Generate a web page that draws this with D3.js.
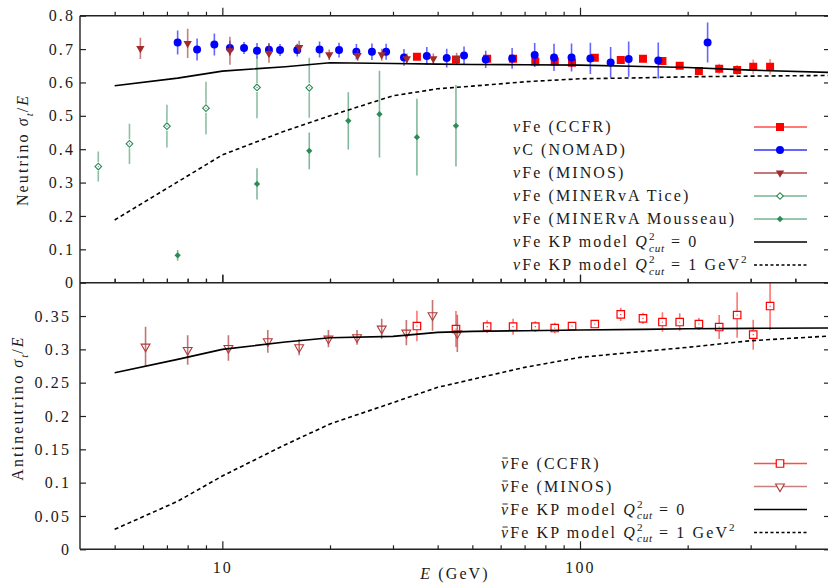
<!DOCTYPE html>
<html><head><meta charset="utf-8">
<script src="https://cdn.jsdelivr.net/npm/d3@7"></script>
<style>
body{margin:0;background:#fff;}
svg text{font-family:"Liberation Serif","Times New Roman",serif;fill:#1a1a1a;letter-spacing:2.1px;white-space:pre;}
</style></head><body><svg id="chart" width="828" height="588"></svg>
<script>
// ---- neutrino data (sigma_t / E, 1e-38 cm^2/GeV) ----
const ccfrE      = [35, 45, 55, 65, 75, 85, 95, 110, 130, 150, 170, 190, 215, 245, 275, 305, 340];
const ccfrNuV    = [0.677, 0.669, 0.671, 0.671, 0.663, 0.663, 0.659, 0.674, 0.667, 0.671, 0.664, 0.650, 0.634, 0.641, 0.637, 0.647, 0.647];
const ccfrNuErr  = [0.008, 0.008, 0.008, 0.008, 0.008, 0.008, 0.008, 0.008, 0.008, 0.010, 0.010, 0.010, 0.012, 0.015, 0.015, 0.022, 0.023];

const nomadE   = [7.5, 8.5, 9.5, 10.5, 11.5, 12.5, 13.5, 14.5, 16.2, 18.7, 21.2, 23.7, 26.2, 28.7, 32.2, 37.3, 42.4, 47.4, 54.5, 64.6, 74.7, 84.6, 94.7, 106.9, 121.8, 136.8, 165.5, 227.4];
const nomadV   = [0.720, 0.699, 0.714, 0.703, 0.703, 0.695, 0.698, 0.697, 0.697, 0.699, 0.697, 0.692, 0.692, 0.692, 0.675, 0.679, 0.673, 0.681, 0.669, 0.672, 0.682, 0.675, 0.675, 0.672, 0.660, 0.670, 0.666, 0.720];
const nomadErr = [0.036, 0.033, 0.033, 0.022, 0.018, 0.023, 0.020, 0.018, 0.019, 0.024, 0.022, 0.023, 0.025, 0.024, 0.025, 0.027, 0.028, 0.027, 0.026, 0.031, 0.036, 0.041, 0.042, 0.047, 0.046, 0.053, 0.054, 0.060];

const minosNuE   = [5.9, 8.0, 10.5, 13.5, 16.4, 19.9, 23.9, 27.9, 32.8, 38.9, 45.2];
const minosNuV   = [0.702, 0.717, 0.695, 0.687, 0.705, 0.683, 0.681, 0.683, 0.671, 0.671, 0.671];
const minosNuErr = [0.032, 0.044, 0.042, 0.028, 0.020, 0.016, 0.016, 0.018, 0.016, 0.016, 0.018];

const ticeE   = [4.5, 5.5, 7.0, 9.0, 12.5, 17.5];
const ticeV   = [0.348, 0.416, 0.469, 0.523, 0.585, 0.584];
const ticeErr = [0.045, 0.060, 0.064, 0.079, 0.092, 0.090];

const mousseauE   = [7.5, 12.5, 17.5, 22.5, 27.5, 35, 45];
const mousseauV   = [0.082, 0.296, 0.395, 0.485, 0.505, 0.436, 0.470];
const mousseauErr = [0.016, 0.047, 0.055, 0.086, 0.130, 0.115, 0.122];

// ---- antineutrino data ----
const ccfrAntiV   = [0.335, 0.3305, 0.334, 0.334, 0.334, 0.332, 0.335, 0.338, 0.3525, 0.3465, 0.341, 0.341, 0.338, 0.3335, 0.3515, 0.322, 0.365];
const ccfrAntiErr = [0.023, 0.027, 0.0095, 0.012, 0.008, 0.008, 0.006, 0.005, 0.010, 0.0085, 0.0145, 0.013, 0.009, 0.018, 0.034, 0.0225, 0.036];

const minosAntiE   = [6.1, 8.0, 10.4, 13.4, 16.4, 19.8, 23.8, 27.9, 32.7, 38.7, 45.4];
const minosAntiV   = [0.304, 0.299, 0.302, 0.312, 0.303, 0.316, 0.318, 0.331, 0.325, 0.351, 0.324];
const minosAntiErr = [0.030, 0.022, 0.019, 0.017, 0.012, 0.013, 0.011, 0.015, 0.019, 0.023, 0.028];

// ---- KP model curves ----
const modelE       = [5, 7.5, 10, 15, 20, 30, 40, 50, 70, 100, 150, 200, 300, 500];
const nuKP0        = [0.590, 0.613, 0.634, 0.647, 0.659, 0.657, 0.655, 0.654, 0.653, 0.652, 0.648, 0.645, 0.637, 0.630];
const nuKP1        = [0.188, 0.302, 0.383, 0.455, 0.500, 0.560, 0.581, 0.589, 0.602, 0.611, 0.614, 0.617, 0.619, 0.621];
const antiKP0      = [0.265, 0.285, 0.300, 0.311, 0.3175, 0.3195, 0.3255, 0.327, 0.328, 0.329, 0.330, 0.331, 0.3315, 0.332];
const antiKP1      = [0.030, 0.072, 0.110, 0.157, 0.188, 0.220, 0.243, 0.255, 0.273, 0.288, 0.297, 0.303, 0.313, 0.320];

// ---- ticks ----
const topTicks = [0, 0.1, 0.2, 0.3, 0.4, 0.5, 0.6, 0.7, 0.8];
const botTicks = [0, 0.05, 0.1, 0.15, 0.2, 0.25, 0.3, 0.35];
const xMajor = [10, 100];
const xMinor = [5, 6, 7, 8, 9, 20, 30, 40, 50, 60, 70, 80, 90, 200, 300, 400];
const xLabels = ["10", "100"];

const svg = d3.select("#chart");
const FS = 16;
const L = 80, R = 830, T = 15.7, MID = 282.7, B = 549.3;

const x = d3.scaleLog().domain([4, 500]).range([L, R]);
const yTop = d3.scaleLinear().domain([0, 0.8]).range([MID, T]);
const yBot = d3.scaleLinear().domain([0, 0.4]).range([B, MID]);

const defs = svg.append("defs");
defs.append("clipPath").attr("id", "clipTop").append("rect").attr("x", L).attr("y", T).attr("width", R - L).attr("height", MID - T);
defs.append("clipPath").attr("id", "clipBot").append("rect").attr("x", L).attr("y", MID).attr("width", R - L).attr("height", B - MID);

const zip = (E, V, Er) => E.map((e, i) => ({e, v: V[i], err: Er ? Er[i] : 0}));

// ---------- axes ----------
function xAxes(y, dir, showLabels) {
  const mk = dir === "bottom" ? d3.axisBottom : d3.axisTop;
  const sign = dir === "bottom" ? -1 : 1;  // inward ticks
  const gMaj = svg.append("g").attr("transform", `translate(0,${y})`)
    .call(mk(x).tickValues(xMajor).tickSize(sign * 8).tickPadding(12)
      .tickFormat((d, i) => showLabels ? xLabels[i] : ""));
  const gMin = svg.append("g").attr("transform", `translate(0,${y})`)
    .call(mk(x).tickValues(xMinor).tickSize(sign * 4).tickFormat(""));
  [gMaj, gMin].forEach(g => {
    g.select(".domain").remove();
    g.selectAll(".tick line").attr("stroke", "#222").attr("stroke-width", 1.2);
    g.selectAll("text").style("font-size", FS + "px").attr("fill", "#1a1a1a").attr("font-family", null);
  });
}
function yAxes(scale, ticks, labelX) {
  const gl = svg.append("g").attr("transform", `translate(${L},0)`)
    .call(d3.axisLeft(scale).tickValues(ticks).tickSize(-6).tickPadding(0).tickFormat(d => String(d)));
  gl.select(".domain").remove();
  gl.selectAll(".tick line").attr("stroke", "#222").attr("stroke-width", 1.2);
  gl.selectAll("text").attr("x", labelX - L).style("font-size", FS + "px").attr("font-family", null);
  const gr = svg.append("g").attr("transform", `translate(${R},0)`)
    .call(d3.axisRight(scale).tickValues(ticks).tickSize(-6).tickFormat(""));
  gr.select(".domain").remove();
  gr.selectAll(".tick line").attr("stroke", "#222").attr("stroke-width", 1.2);
}

// ---------- panel content ----------
function errBars(g, data, y, color, opacity, gap) {
  data.forEach(d => {
    const cx = x(d.e), y1 = y(d.v + d.err), y0 = y(d.v - d.err), cy = y(d.v);
    if (gap) {
      if (cy - gap > y1) g.append("line").attr("x1", cx).attr("x2", cx).attr("y1", y1).attr("y2", cy - gap);
      if (cy + gap < y0) g.append("line").attr("x1", cx).attr("x2", cx).attr("y1", cy + gap).attr("y2", y0);
    } else {
      g.append("line").attr("x1", cx).attr("x2", cx).attr("y1", y1).attr("y2", y0);
    }
  });
  g.selectAll("line").attr("stroke", color).attr("stroke-opacity", opacity).attr("stroke-width", 1.6);
}
function markers(g, data, y, sym, size, rot, fill, stroke, sw, dot) {
  g.selectAll("path").data(data).join("path")
    .attr("d", d3.symbol().type(sym).size(size))
    .attr("transform", d => `translate(${x(d.e)},${y(d.v)}) rotate(${rot})`)
    .attr("fill", fill).attr("stroke", stroke).attr("stroke-width", sw);
  if (dot) {
    g.selectAll("circle").data(data).join("circle")
      .attr("cx", d => x(d.e)).attr("cy", d => y(d.v)).attr("r", 0.6).attr("fill", dot);
  }
}
function curve(g, E, V, y, dash) {
  g.append("path").datum(E.map((e, i) => [e, V[i]]))
    .attr("d", d3.line().x(d => x(d[0])).y(d => y(d[1])))
    .attr("fill", "none").attr("stroke", "#000").attr("stroke-width", 1.6)
    .attr("stroke-dasharray", dash ? "4,3" : null);
}

const RED = "#ff0000", BLUE = "#0000ff", BROWN = "#a52a2a", GREEN = "#2e8b57";

// top panel
const gt = svg.append("g").attr("clip-path", "url(#clipTop)");
const ccfrNu = zip(ccfrE, ccfrNuV, ccfrNuErr);
const nomad = zip(nomadE, nomadV, nomadErr);
const minosNu = zip(minosNuE, minosNuV, minosNuErr);
const tice = zip(ticeE, ticeV, ticeErr);
const mous = zip(mousseauE, mousseauV, mousseauErr);

errBars(gt.append("g"), ccfrNu, yTop, RED, 0.45);
markers(gt.append("g"), ccfrNu, yTop, d3.symbolSquare, 64, 0, RED, "none", 0);
errBars(gt.append("g"), nomad, yTop, BLUE, 0.6);
markers(gt.append("g"), nomad, yTop, d3.symbolCircle, 50, 0, BLUE, "none", 0);
errBars(gt.append("g"), minosNu, yTop, BROWN, 0.6);
markers(gt.append("g"), minosNu, yTop, d3.symbolTriangle, 30, 180, BROWN, "none", 0);
errBars(gt.append("g"), tice, yTop, GREEN, 0.55, 4.5);
markers(gt.append("g"), tice, yTop, d3.symbolSquare, 22, 45, "none", GREEN, 1.1, GREEN);
errBars(gt.append("g"), mous, yTop, GREEN, 0.6);
markers(gt.append("g"), mous, yTop, d3.symbolSquare, 20, 45, GREEN, "none", 0);
curve(gt, modelE, nuKP0, yTop, false);
curve(gt, modelE, nuKP1, yTop, true);

// bottom panel
const gb = svg.append("g").attr("clip-path", "url(#clipBot)");
const ccfrAnti = zip(ccfrE, ccfrAntiV, ccfrAntiErr);
const minosAnti = zip(minosAntiE, minosAntiV, minosAntiErr);
errBars(gb.append("g"), ccfrAnti, yBot, RED, 0.55, 4);
markers(gb.append("g"), ccfrAnti, yBot, d3.symbolSquare, 56, 0, "none", RED, 1.2, RED);
errBars(gb.append("g"), minosAnti, yBot, BROWN, 0.65);
markers(gb.append("g"), minosAnti, yBot, d3.symbolTriangle, 34, 180, "none", "#b03a3a", 1.1);
curve(gb, modelE, antiKP0, yBot, false);
curve(gb, modelE, antiKP1, yBot, true);

// frame
const frame = svg.append("g").attr("stroke", "#222").attr("stroke-width", 1.4).attr("fill", "none");
frame.append("line").attr("x1", L).attr("x2", L).attr("y1", T).attr("y2", B);
frame.append("line").attr("x1", L).attr("x2", R).attr("y1", T).attr("y2", T);
frame.append("line").attr("x1", L).attr("x2", R).attr("y1", MID).attr("y2", MID);
frame.append("line").attr("x1", L).attr("x2", R).attr("y1", B).attr("y2", B);
frame.append("line").attr("x1", R).attr("x2", R).attr("y1", T).attr("y2", B);

xAxes(T, "top", false);
xAxes(MID, "bottom", false);
xAxes(MID, "top", false);
xAxes(B, "bottom", true);
yAxes(yTop, topTicks, 75);
yAxes(yBot, botTicks, 71);

// ---------- rich text (italics, sub/superscripts, bar accent) ----------
function rich(g, x0, y0, parts) {
  let cx = x0, prev = null;
  parts.forEach(p => {
    const pos = p.pos || "base";
    const fs = pos === "base" ? FS : FS * 0.7;
    const dy = pos === "sup" ? -FS * 0.42 : pos === "sub" ? FS * 0.3 : 0;
    const px = p.stack && prev ? prev.x : cx;
    const t = g.append("text").attr("x", px).attr("y", y0 + dy)
      .style("font-size", fs + "px").style("font-style", p.it ? "italic" : "normal").text(p.t);
    if (pos !== "base") t.style("letter-spacing", "0.8px");
    const w = t.node().getComputedTextLength();
    if (p.bar) {
      g.append("line").attr("x1", px + 1.5).attr("x2", px + w - 2.5)
        .attr("y1", y0 - 10.5).attr("y2", y0 - 10.5).attr("stroke", "#1a1a1a").attr("stroke-width", 0.9);
    }
    cx = p.stack && prev ? Math.max(prev.x + prev.w, px + w) : px + w;
    prev = {x: px, w};
  });
  return cx - x0;
}

// axis titles
const xt = svg.append("g");
const xw = rich(xt, 0, 0, [{t: "E", it: true}, {t: " (GeV)"}]);
xt.attr("transform", `translate(${455 - xw / 2},579)`);

function yTitle(label, cy, bx) {
  const g = svg.append("g");
  const w = rich(g, 0, 0, [{t: label}, {t: "σ", it: true}, {t: "t", it: true, pos: "sub"}, {t: "/"}, {t: "E", it: true}]);
  g.attr("transform", `translate(${bx},${cy}) rotate(-90) translate(${-w / 2},0)`);
}
yTitle("Neutrino ", 150, 28);
yTitle("Antineutrino ", 408, 23);

// ---------- legends ----------
const nu = [{t: "ν", it: true}];
const nubar = [{t: "ν", it: true, bar: true}];
const q2 = [{t: "Q", it: true}, {t: "2", pos: "sup"}, {t: "cut", it: true, pos: "sub", stack: true}];
const topLegend = [
  {parts: [...nu, {t: "Fe (CCFR)"}], line: RED, lo: 0.7, sym: "sq"},
  {parts: [...nu, {t: "C (NOMAD)"}], line: BLUE, lo: 0.8, sym: "circ"},
  {parts: [...nu, {t: "Fe (MINOS)"}], line: BROWN, lo: 0.85, sym: "tri"},
  {parts: [...nu, {t: "Fe (MINERvA Tice)"}], line: GREEN, lo: 0.65, sym: "odia"},
  {parts: [...nu, {t: "Fe (MINERvA Mousseau)"}], line: GREEN, lo: 0.65, sym: "dia"},
  {parts: [...nu, {t: "Fe KP model "}, ...q2, {t: " = 0"}], line: "#000", lo: 1, sym: null},
  {parts: [...nu, {t: "Fe KP model "}, ...q2, {t: " = 1 GeV"}, {t: "2", pos: "sup"}], line: "#000", lo: 1, sym: null, dash: true}
];
const botLegend = [
  {parts: [...nubar, {t: "Fe (CCFR)"}], line: RED, lo: 0.7, sym: "osq"},
  {parts: [...nubar, {t: "Fe (MINOS)"}], line: BROWN, lo: 0.6, sym: "otri"},
  {parts: [...nubar, {t: "Fe KP model "}, ...q2, {t: " = 0"}], line: "#000", lo: 1, sym: null},
  {parts: [...nubar, {t: "Fe KP model "}, ...q2, {t: " = 1 GeV"}, {t: "2", pos: "sup"}], line: "#000", lo: 1, sym: null, dash: true}
];
function legend(items, tx, y0, step) {
  items.forEach((it, i) => {
    const cy = y0 + i * step;
    const g = svg.append("g");
    rich(g, tx, cy + 5, it.parts);
    g.append("line").attr("x1", 754).attr("x2", 807).attr("y1", cy).attr("y2", cy)
      .attr("stroke", it.line).attr("stroke-opacity", it.lo).attr("stroke-width", 1.6)
      .attr("stroke-dasharray", it.dash ? "3,2.5" : null);
    const m = g.append("path").attr("transform", `translate(780,${cy})`);
    if (it.sym === "sq") m.attr("d", d3.symbol(d3.symbolSquare, 64)()).attr("fill", RED);
    if (it.sym === "circ") m.attr("d", d3.symbol(d3.symbolCircle, 50)()).attr("fill", BLUE);
    if (it.sym === "tri") m.attr("d", d3.symbol(d3.symbolTriangle, 30)()).attr("fill", BROWN).attr("transform", `translate(780,${cy}) rotate(180)`);
    if (it.sym === "odia") m.attr("d", d3.symbol(d3.symbolSquare, 22)()).attr("fill", "#fff").attr("stroke", GREEN).attr("stroke-width", 1.1).attr("transform", `translate(780,${cy}) rotate(45)`);
    if (it.sym === "dia") m.attr("d", d3.symbol(d3.symbolSquare, 20)()).attr("fill", GREEN).attr("transform", `translate(780,${cy}) rotate(45)`);
    if (it.sym === "osq") m.attr("d", d3.symbol(d3.symbolSquare, 56)()).attr("fill", "#fff").attr("stroke", RED).attr("stroke-width", 1.2);
    if (it.sym === "otri") m.attr("d", d3.symbol(d3.symbolTriangle, 34)()).attr("fill", "#fff").attr("stroke", "#b03a3a").attr("stroke-width", 1.1).attr("transform", `translate(780,${cy}) rotate(180)`);
    if (!it.sym) m.remove();
  });
}
legend(topLegend, 513, 127, 23);
legend(botLegend, 501, 463.5, 23);
</script></body></html>
